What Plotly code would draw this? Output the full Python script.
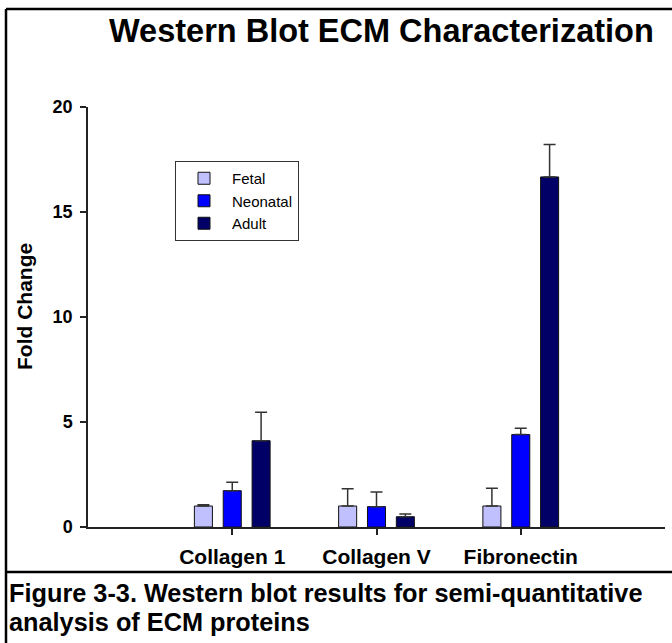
import plotly.graph_objects as go

categories = ["Collagen 1", "Collagen V", "Fibronectin"]
series_names = ["Fetal", "Neonatal", "Adult"]
fetal = [1.0, 1.0, 1.0]
fetal_err = [0.06, 0.82, 0.85]
neonatal = [1.73, 0.97, 4.4]
neonatal_err = [0.4, 0.7, 0.3]
adult = [4.11, 0.49, 16.67]
adult_err = [1.35, 0.13, 1.55]
colors = ["#C0C0FF", "#0000FF", "#000066"]
y_ticks = [0, 5, 10, 15, 20]

title_text = "Western Blot ECM Characterization"
caption_lines = ["Figure 3-3. Western blot results for semi-quantitative",
                 "analysis of ECM proteins"]
y_title = "Fold Change"

FONT = "Liberation Sans, Arial, sans-serif"

W, H = 672, 643
L, R, T, B = 88, 7, 107, 116
pw = W - L - R
ph = H - T - B


def px_x(x):
    return (x - L) / pw


def px_y(y):
    return (H - B - y) / ph


fig = go.Figure()
for name, vals, errs, col in zip(series_names, [fetal, neonatal, adult],
                                 [fetal_err, neonatal_err, adult_err], colors):
    fig.add_trace(go.Bar(
        name=name, x=categories, y=vals,
        marker=dict(color=col, line=dict(color="#111111", width=1)),
        error_y=dict(type="data", array=errs, arrayminus=[0] * len(errs),
                     symmetric=False, color="#333333", thickness=1.5, width=6),
    ))

fig.update_layout(
    width=W, height=H,
    margin=dict(l=L, r=R, t=T, b=B, pad=0),
    paper_bgcolor="white", plot_bgcolor="white",
    font=dict(family=FONT, color="black"),
    barmode="group", bargap=0.4, bargroupgap=0.375,
    showlegend=True,
    legend=dict(x=px_x(175), y=px_y(161), xanchor="left", yanchor="top",
                bordercolor="#333333", borderwidth=1, bgcolor="white",
                font=dict(family=FONT, size=15, color="black"),
                itemwidth=46, entrywidth=100, entrywidthmode="pixels",
                tracegroupgap=0),
)

fig.update_xaxes(
    range=[-1, 3], showline=True, linecolor="#222222", linewidth=1.5,
    ticks="outside", ticklen=6, tickcolor="#222222", tickwidth=1.5,
    tickfont=dict(family=FONT, size=21, weight="bold", color="black"),
    ticklabelstandoff=4,
    showgrid=False, zeroline=False, fixedrange=True,
)
fig.update_yaxes(
    range=[0, 20], tickvals=y_ticks, showline=True, linecolor="#222222", linewidth=1.5,
    ticks="outside", ticklen=6, tickcolor="#222222", tickwidth=1.5,
    tickfont=dict(family=FONT, size=18, weight="bold", color="black"),
    ticklabelstandoff=4,
    showgrid=False, zeroline=False, fixedrange=True,
)

annotations = [
    dict(text=title_text, xref="paper", yref="paper", x=px_x(381), y=px_y(31),
         xanchor="center", yanchor="middle", showarrow=False,
         font=dict(family=FONT, size=32.5, weight="bold", color="black")),
    dict(text=y_title, xref="paper", yref="paper", x=px_x(24), y=px_y(307),
         xanchor="center", yanchor="middle", showarrow=False, textangle=-90,
         font=dict(family=FONT, size=21, weight="bold", color="black")),
]
for i, line in enumerate(caption_lines):
    annotations.append(dict(
        text=line, xref="paper", yref="paper", x=px_x(7), y=px_y(593 + 29 * i),
        xanchor="left", yanchor="middle", showarrow=False,
        font=dict(family=FONT, size=25.3, weight="bold", color="black")))
fig.update_layout(annotations=annotations)

border = dict(color="black", width=2.5)
shapes = [
    dict(type="line", xref="paper", yref="paper", x0=px_x(6), x1=px_x(6),
         y0=px_y(9), y1=px_y(H), line=border),
    dict(type="line", xref="paper", yref="paper", x0=px_x(6), x1=px_x(W),
         y0=px_y(9), y1=px_y(9), line=border),
    dict(type="line", xref="paper", yref="paper", x0=px_x(6), x1=px_x(W),
         y0=px_y(572), y1=px_y(572), line=border),
]
fig.update_layout(shapes=shapes)

fig.write_html("out.html")
